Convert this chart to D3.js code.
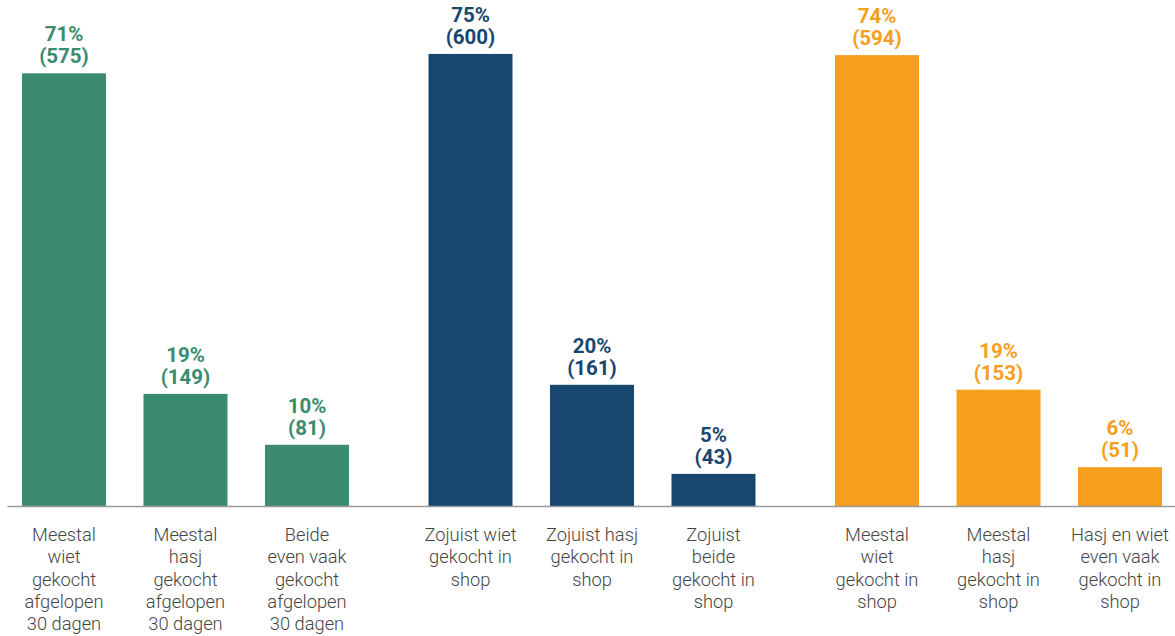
<!DOCTYPE html>
<html>
<head>
<meta charset="utf-8">
<script src="https://cdn.jsdelivr.net/npm/d3@7"></script>
<style>
  html, body { margin: 0; padding: 0; background: #fff; }
  svg { display: block; font-family: Roboto, "Noto Sans", sans-serif; }
</style>
</head>
<body>
<svg id="chart" width="1175" height="636"></svg>
<script>
// ---- data ----
const groups = ["Laatste 30 dagen", "Zojuist in shop", "Meestal in shop"];
const groupColors = ["#3b8b6e", "#17466f", "#f79e1f"];
const categories = [
  ["Meestal", "wiet", "gekocht", "afgelopen", "30 dagen"],
  ["Meestal", "hasj", "gekocht", "afgelopen", "30 dagen"],
  ["Beide", "even vaak", "gekocht", "afgelopen", "30 dagen"],
  ["Zojuist wiet", "gekocht in", "shop"],
  ["Zojuist hasj", "gekocht in", "shop"],
  ["Zojuist", "beide", "gekocht in", "shop"],
  ["Meestal", "wiet", "gekocht in", "shop"],
  ["Meestal", "hasj", "gekocht in", "shop"],
  ["Hasj en wiet", "even vaak", "gekocht in", "shop"]
];
const groupIndex = [0, 0, 0, 1, 1, 1, 2, 2, 2];
const shares = [71.4, 18.5, 10.1, 74.6, 20.0, 5.3, 74.4, 19.2, 6.4];
const pctLabels = [71, 19, 10, 75, 20, 5, 74, 19, 6];
const counts = [575, 149, 81, 600, 161, 43, 594, 153, 51];

// ---- layout ----
const svg = d3.select("#chart");
const baseY = 506;

const x0 = d3.scaleBand().domain(d3.range(groups.length)).range([22, 1162]).paddingInner(0.1956).paddingOuter(0);
const x1 = d3.scaleBand().domain([0, 1, 2]).range([0, x0.bandwidth()]).paddingInner(0.3086).paddingOuter(0);
const y = d3.scaleLinear().domain([0, 100]).range([baseY, baseY - 606]);

const data = shares.map((v, i) => {
  const g = groupIndex[i];
  const within = i - groupIndex.indexOf(g);
  return { i, g, within, v, pct: pctLabels[i], n: counts[i], lines: categories[i] };
});
const xPos = d => x0(d.g) + x1(d.within);
const xMid = d => xPos(d) + x1.bandwidth() / 2;

// bars
svg.append("g").selectAll("rect").data(data).join("rect")
  .attr("x", xPos)
  .attr("y", d => y(d.v))
  .attr("width", x1.bandwidth())
  .attr("height", d => y(0) - y(d.v))
  .attr("fill", d => groupColors[d.g]);

// baseline axis
const axis = d3.axisBottom(d3.scaleLinear().range([7, 1175])).ticks(0).tickSize(0).tickSizeOuter(0);
const ax = svg.append("g").attr("transform", `translate(0,${baseY})`).call(axis);
ax.select(".domain").attr("stroke", "#9a9a9a").attr("stroke-width", 1.3);
ax.selectAll("text").remove();

// value labels
const vl = svg.append("g").selectAll("text").data(data).join("text")
  .attr("text-anchor", "middle")
  .attr("font-weight", 700)
  .attr("font-size", 20.5)
  .attr("fill", d => groupColors[d.g])
  .attr("x", xMid)
  .attr("y", d => y(d.v) - 10 - 22);
vl.append("tspan").text(d => d.pct + "%");
vl.append("tspan").attr("x", xMid).attr("dy", 22).text(d => "(" + d.n + ")");

// category labels
const cl = svg.append("g").selectAll("text").data(data).join("text")
  .attr("text-anchor", "middle")
  .attr("font-size", 18.3)
  .attr("font-weight", 300)
  .attr("fill", "#444")
  .attr("x", xMid)
  .attr("y", 541);
cl.selectAll("tspan").data(d => d.lines.map(t => ({ t, cx: xMid(d) }))).join("tspan")
  .attr("x", t => t.cx)
  .attr("dy", (t, k) => k === 0 ? 0 : 22.3)
  .text(t => t.t);
</script>
</body>
</html>
